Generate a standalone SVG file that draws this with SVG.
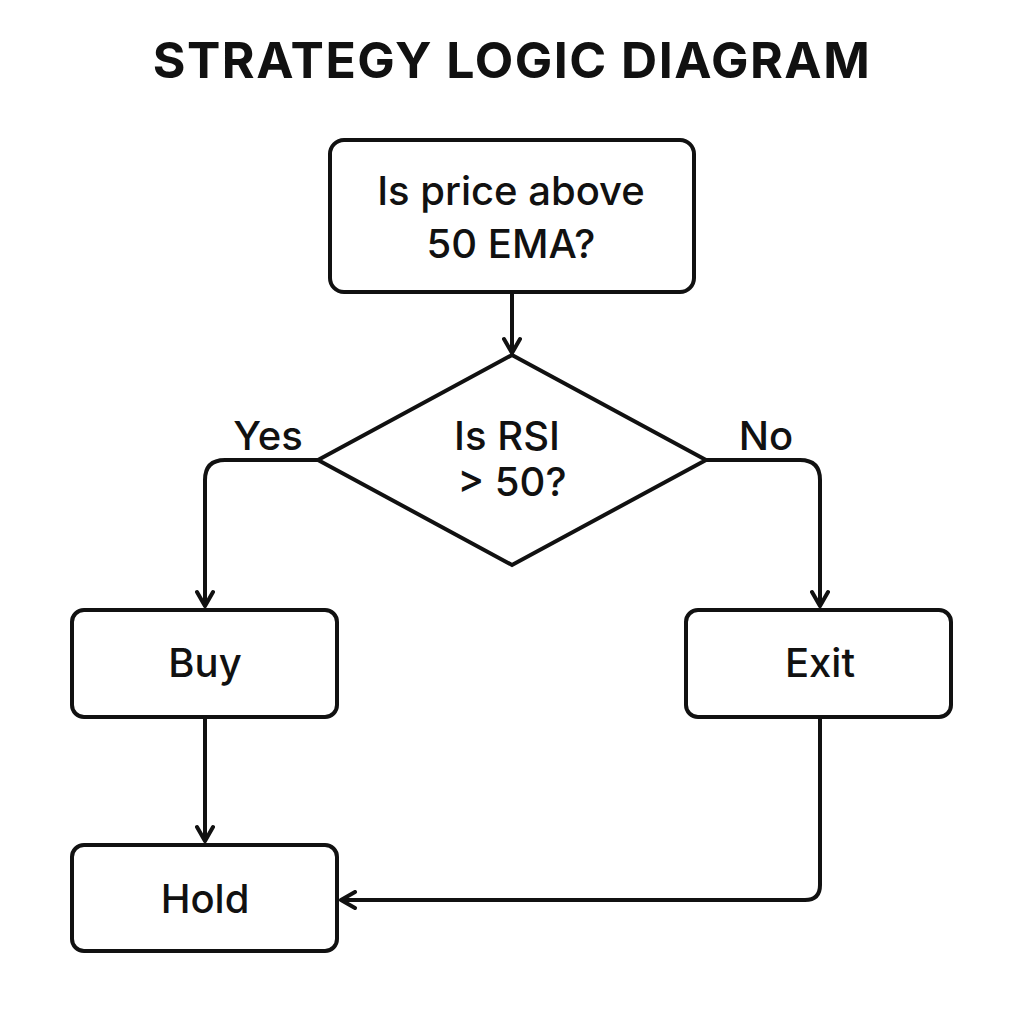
<svg xmlns="http://www.w3.org/2000/svg" width="1024" height="1024" viewBox="0 0 1024 1024">
<defs>
<style>
.box{fill:#fff;stroke:#111;stroke-width:4}
.line{fill:none;stroke:#111;stroke-width:4;stroke-linejoin:round}
.t{font-family:Inter,"Liberation Sans",Arial,sans-serif;fill:#111;text-anchor:middle}
.lbl{font-size:40px;font-weight:500}
.ttl{font-size:50px;font-weight:700;letter-spacing:1.5px}
</style>
<marker id="arr" viewBox="0 0 20 20" refX="18" refY="10" markerWidth="20" markerHeight="20" markerUnits="userSpaceOnUse" orient="auto">
<path d="M4,2 L18,10 L4,18" fill="none" stroke="#111" stroke-width="4" stroke-linecap="round" stroke-linejoin="round"/>
</marker>
</defs>
<rect width="1024" height="1024" fill="#fff"/>
<text class="t ttl" x="512" y="78">STRATEGY LOGIC DIAGRAM</text>
<g id="connectors">
<path class="line" d="M512,292 L512,353" marker-end="url(#arr)"/>
<path class="line" d="M318,460 L225,460 Q205,460 205,480 L205,606" marker-end="url(#arr)"/>
<path class="line" d="M706,460 L800,460 Q820,460 820,480 L820,606" marker-end="url(#arr)"/>
<path class="line" d="M205,717 L205,841" marker-end="url(#arr)"/>
<path class="line" d="M820,717 L820,885 Q820,900 805,900 L341,900" marker-end="url(#arr)"/>
<text class="t lbl" x="268" y="450">Yes</text>
<text class="t lbl" x="766" y="450">No</text>
</g>
<g id="start">
<rect class="box" x="330" y="140" width="364" height="152" rx="14"/>
<text class="t lbl" x="511" y="205">Is price above</text>
<text class="t lbl" x="511" y="258">50 EMA?</text>
</g>
<g id="decision">
<polygon class="box" points="512,355 706,460 512,565 318,460" stroke-linejoin="miter"/>
<text class="t lbl" x="507" y="450">Is RSI</text>
<text class="t lbl" x="512" y="496">&gt; 50?</text>
</g>
<g id="buy">
<rect class="box" x="72" y="610" width="265" height="107" rx="12"/>
<text class="t lbl" x="205" y="677">Buy</text>
</g>
<g id="exit">
<rect class="box" x="686" y="610" width="265" height="107" rx="12"/>
<text class="t lbl" x="820" y="677">Exit</text>
</g>
<g id="hold">
<rect class="box" x="72" y="845" width="265" height="106" rx="12"/>
<text class="t lbl" x="205" y="913">Hold</text>
</g>
</svg>
